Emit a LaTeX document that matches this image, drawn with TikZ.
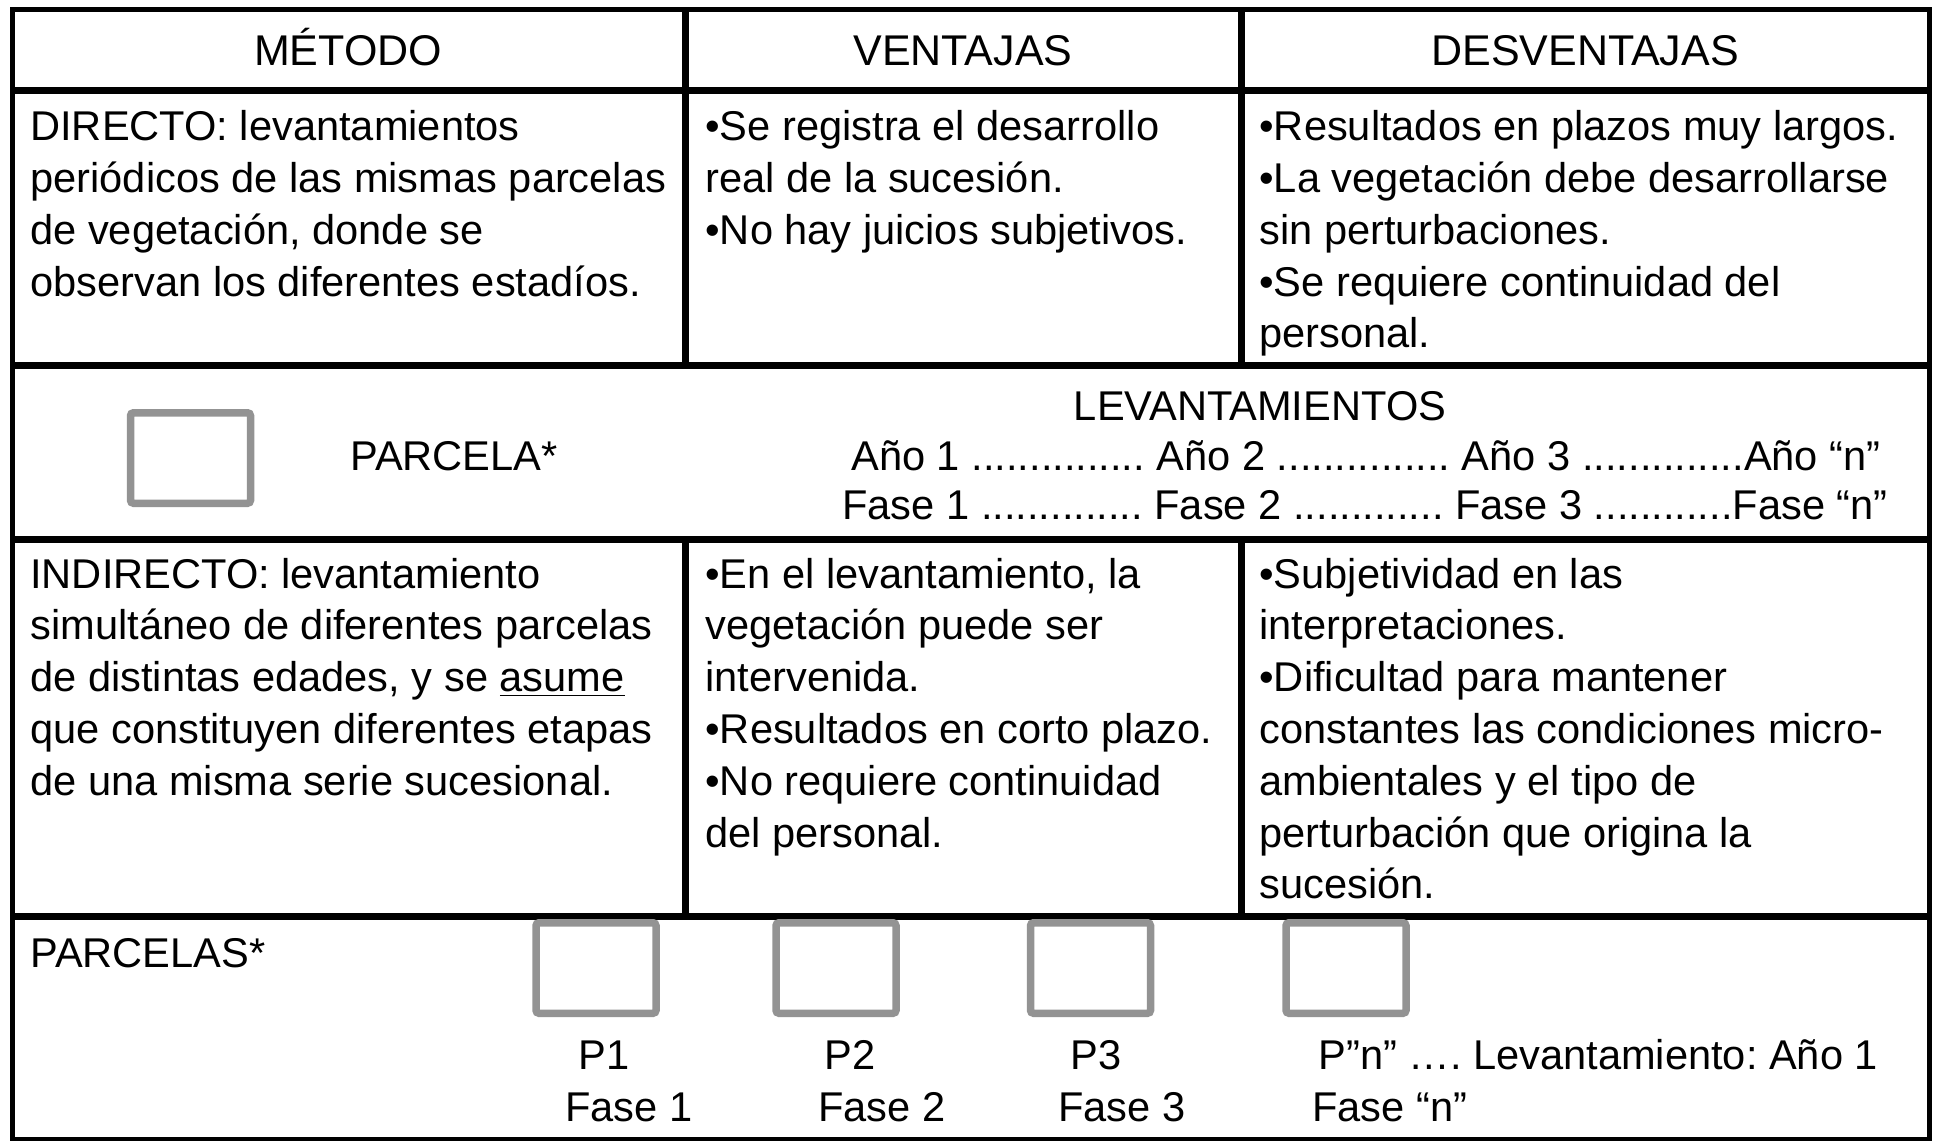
\documentclass[tikz,border=0pt]{standalone}
\usepackage{fontspec}
\setmainfont{Liberation Sans}
\usetikzlibrary{positioning}

\definecolor{plotgray}{HTML}{939393}

\begin{document}
\frenchspacing
\begin{tikzpicture}[x=0.5pt, y=-0.5pt]
        \tikzset{
            head/.style={anchor=base, inner sep=0pt, font=\fontsize{21.5}{26}\selectfont},
            cell/.style={anchor=north west, inner sep=0pt, align=left, font=\fontsize{20.8}{25.9}\selectfont},
            txt/.style={anchor=base west, inner sep=0pt, font=\fontsize{20.8}{25.9}\selectfont},
            plot/.style={draw=plotgray, line width=3.75pt, rounded corners=1.5pt, minimum width=60pt, minimum height=45.25pt, inner sep=0pt},
            rule/.style={line width=3.5pt}
        }
        \useasboundingbox (0,0) rectangle (1934,1141);

        %FRAME AND RULES
        \draw[line width=2.5pt] (12,9) rectangle (1929,1139);
        \draw[rule] (12,90.5) -- (1929,90.5);
        \draw[rule] (12,365) -- (1929,365);
        \draw[rule] (12,539) -- (1929,539);
        \draw[rule] (12,916) -- (1929,916);
        \draw[rule] (685.5,9) -- (685.5,365);
        \draw[rule] (1241,9) -- (1241,365);
        \draw[rule] (685.5,539) -- (685.5,916);
        \draw[rule] (1241,539) -- (1241,916);

        %HEADER
        \node[head] (metodo) at (348,65) {MÉTODO};
        \node[head] (ventajas) at (963,65) {VENTAJAS};
        \node[head] (desventajas) at (1585,65) {DESVENTAJAS};

        %DIRECTO
        \node[cell] (directo) at (30,104) {\strut DIRECTO: levantamientos\\ periódicos de las mismas parcelas\\ de vegetación, donde se\\ observan los diferentes estadíos.};
        \node[cell] (dirven) at (705,104) {\strut •Se registra el desarrollo\\ real de la sucesión.\\ •No hay juicios subjetivos.};
        \node[cell] (dirdes) at (1259,104) {\strut •Resultados en plazos muy largos.\\ •La vegetación debe desarrollarse\\ sin perturbaciones.\\ •Se requiere continuidad del\\ personal.};

        % ONE PLOT, SEVERAL YEARS
        \node[plot] (parcela) at (190.5,458) {};
        \node[txt] (parcelatxt) at (350,470) {PARCELA*};
        \node[anchor=base, inner sep=0pt, font=\fontsize{20.8}{25.9}\selectfont] (lev) at (1260,420) {LEVANTAMIENTOS};
        \node[txt] (anos) at (851,470) {Año 1 ............... Año 2 ............... Año 3 ..............Año “n”};
        \node[txt] (fases) at (842,519) {Fase 1 .............. Fase 2 ............. Fase 3 ............Fase “n”};

        %INDIRECTO
        \node[cell] (indirecto) at (30,551.5) {\strut INDIRECTO: levantamiento\\ simultáneo de diferentes parcelas\\ de distintas edades, y se \underline{asume}\\ que constituyen diferentes etapas\\ de una misma serie sucesional.};
        \node[cell] (indven) at (705,551.5) {\strut •En el levantamiento, la\\ vegetación puede ser\\ intervenida.\\ •Resultados en corto plazo.\\ •No requiere continuidad\\ del personal.};
        \node[cell] (inddes) at (1259,551.5) {\strut •Subjetividad en las\\ interpretaciones.\\ •Dificultad para mantener\\ constantes las condiciones micro-\\ ambientales y el tipo de\\ perturbación que origina la\\ sucesión.};

        % SEVERAL PLOTS, ONE YEAR
        \node[txt] (parcelas) at (30,967) {PARCELAS*};
        \node[plot] (p1) at (596,968) {};
        \node[plot] (p2) at (836,968) {};
        \node[plot] (p3) at (1090.5,968) {};
        \node[plot] (pn) at (1346,968) {};
        \node[txt] (p1txt) at (578,1069) {P1};
        \node[txt] (p2txt) at (824,1069) {P2};
        \node[txt] (p3txt) at (1070,1069) {P3};
        \node[txt] (pntxt) at (1318,1069) {P”n” …. Levantamiento: Año 1};
        \node[txt] (f1txt) at (565,1121) {Fase 1};
        \node[txt] (f2txt) at (818,1121) {Fase 2};
        \node[txt] (f3txt) at (1058,1121) {Fase 3};
        \node[txt] (fntxt) at (1312,1121) {Fase “n”};

    \end{tikzpicture}
\end{document}
